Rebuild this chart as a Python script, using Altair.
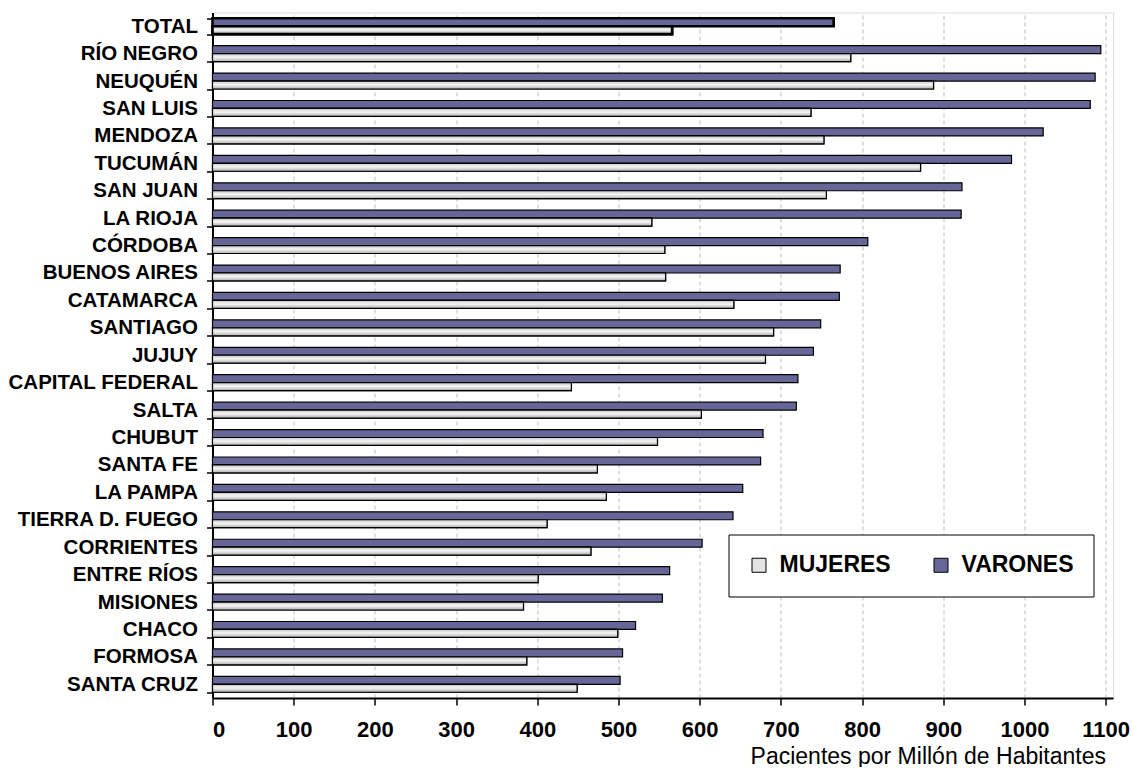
import altair as alt
import pandas as pd

# Pacientes por millón de habitantes, por provincia y sexo
provincias = [
    "TOTAL", "RÍO NEGRO", "NEUQUÉN", "SAN LUIS", "MENDOZA", "TUCUMÁN",
    "SAN JUAN", "LA RIOJA", "CÓRDOBA", "BUENOS AIRES", "CATAMARCA",
    "SANTIAGO", "JUJUY", "CAPITAL FEDERAL", "SALTA", "CHUBUT", "SANTA FE",
    "LA PAMPA", "TIERRA D. FUEGO", "CORRIENTES", "ENTRE RÍOS", "MISIONES",
    "CHACO", "FORMOSA", "SANTA CRUZ",
]
varones = [765, 1094, 1087, 1081, 1023, 984, 923, 922, 807, 773, 772, 749,
           740, 721, 719, 678, 675, 653, 641, 603, 563, 554, 521, 505, 502]
mujeres = [566, 786, 888, 737, 753, 872, 756, 541, 557, 558, 642, 691,
           681, 442, 602, 548, 474, 485, 412, 466, 401, 383, 499, 387, 449]
series = ["VARONES", "MUJERES"]
ticks_x = list(range(0, 1101, 100))

rows = []
for p, v, m in zip(provincias, varones, mujeres):
    rows.append({"provincia": p, "serie": "VARONES", "valor": v})
    rows.append({"provincia": p, "serie": "MUJERES", "valor": m})
df = pd.DataFrame(rows)

FONT = "Liberation Sans"

x_enc = alt.X(
    "valor:Q",
    scale=alt.Scale(domain=[0, 1109], nice=False, zero=True),
    axis=alt.Axis(
        values=ticks_x, format="d",
        title="Pacientes por Millón de Habitantes",
        titleFont=FONT, titleFontSize=23, titleFontWeight="normal",
        titleColor="black", titleAlign="right", titleAnchor="end",
        titleBaseline="alphabetic", titleX=893, titleY=65,
        labelFont=FONT, labelFontSize=22, labelFontWeight="bold",
        labelColor="black", labelPadding=14,
        tickSize=7, tickWidth=1.5, tickColor="black",
        domainColor="black", domainWidth=2,
        grid=True, gridColor="#bdbdbd", gridDash=[4, 3], gridWidth=1,
    ),
)
y_enc = alt.Y(
    "provincia:N",
    sort=provincias,
    scale=alt.Scale(paddingInner=0.42, paddingOuter=0.21),
    axis=alt.Axis(
        title=None, grid=False, labelLimit=0,
        labelFont=FONT, labelFontSize=20.5, labelFontWeight="bold",
        labelColor="black", labelPadding=9,
        tickSize=6, tickWidth=1.5, tickColor="black", tickBand="extent",
        domainColor="black", domainWidth=2,
    ),
)
yoff_enc = alt.YOffset(
    "serie:N",
    scale=alt.Scale(domain=series, paddingInner=0, paddingOuter=0),
)
stroke_w = alt.condition(
    alt.datum.provincia == "TOTAL", alt.value(2.6), alt.value(1.2)
)

base = alt.Chart(df).mark_bar(stroke="black").encode(
    x=x_enc,
    y=y_enc,
    yOffset=yoff_enc,
    strokeWidth=stroke_w,
    color=alt.Color(
        "serie:N",
        scale=alt.Scale(domain=["MUJERES", "VARONES"],
                        range=["#e4e4e4", "#666699"]),
        legend=alt.Legend(
            title=None, orient="none", legendX=516, legendY=522,
            direction="horizontal", columns=2,
            strokeColor="black", fillColor="white", padding=19,
            symbolType="square", symbolSize=196,
            symbolStrokeColor="black", symbolStrokeWidth=1,
            labelFont=FONT, labelFontSize=23, labelFontWeight="bold",
            labelColor="black", labelOffset=9, columnPadding=38,
        ),
    ),
)

# Relleno degradado para las barras de mujeres
gris = alt.Gradient(
    gradient="linear",
    stops=[
        alt.GradientStop(color="#c4c4c4", offset=0),
        alt.GradientStop(color="#f6f6f6", offset=0.45),
        alt.GradientStop(color="#acacac", offset=1),
    ],
    x1=0, x2=0, y1=0, y2=1,
)
overlay = alt.Chart(df).transform_filter(
    alt.datum.serie == "MUJERES"
).mark_bar(stroke="black", fill=gris).encode(
    x=alt.X("valor:Q"),
    y=alt.Y("provincia:N", sort=provincias),
    yOffset=alt.YOffset("serie:N"),
    strokeWidth=stroke_w,
)

chart = alt.layer(base, overlay).properties(
    width=900.5,
    height=685.5,
    autosize=alt.AutoSizeParams(type="none"),
    padding={"left": 212.5, "top": 12.5, "right": 19, "bottom": 69},
).configure_view(
    stroke="black", strokeWidth=1.5
).configure_legend(
    strokeWidth=2
).configure(background="white")

chart.save("out.html", embed_options={"renderer": "svg", "actions": False})
